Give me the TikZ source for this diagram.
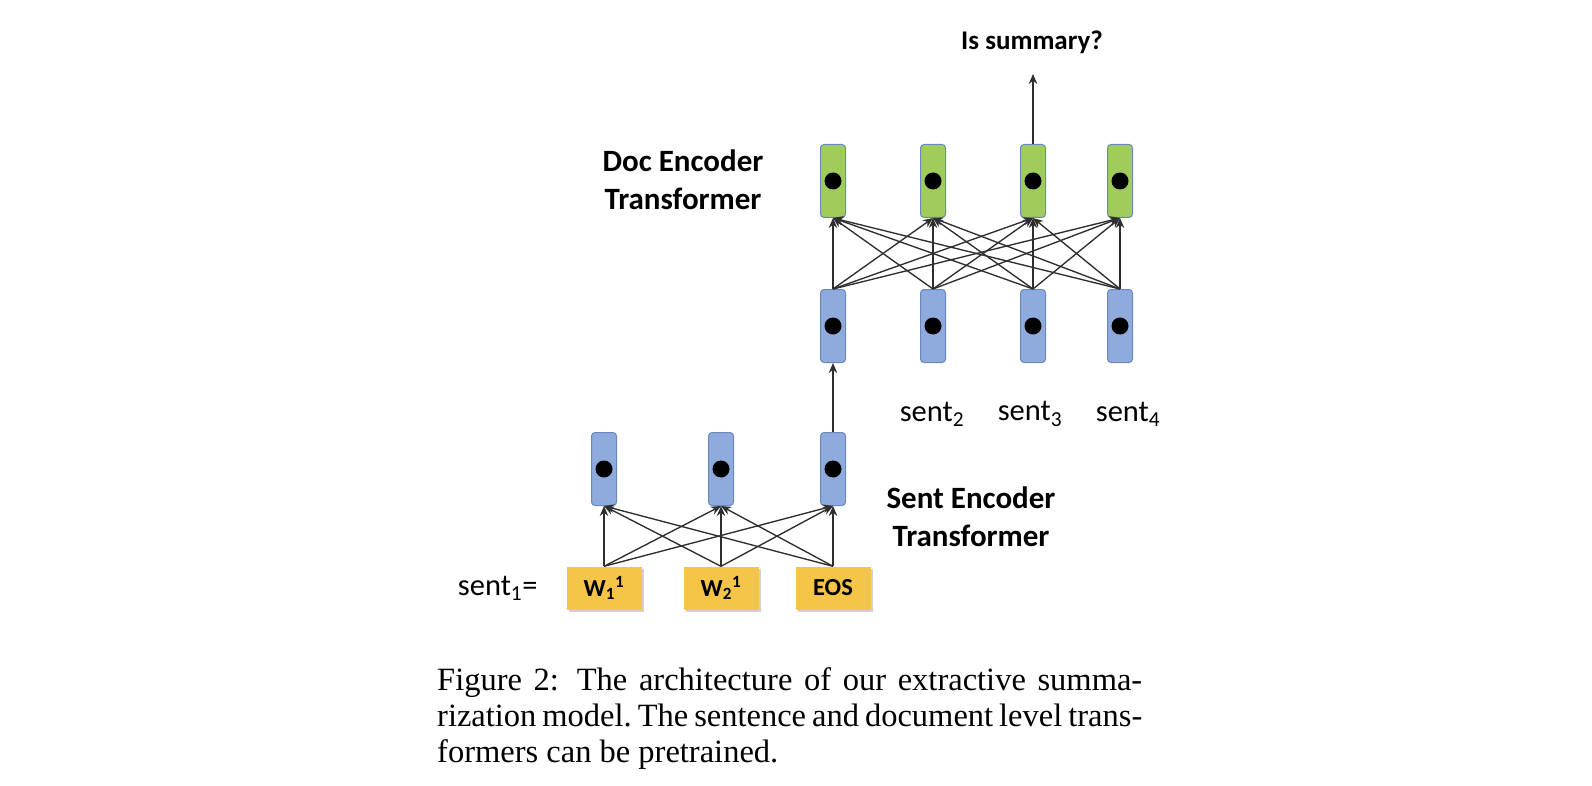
\documentclass[tikz,border=0pt]{standalone}
\usepackage{fontspec}
\setmainfont{Carlito}
\newfontfamily\capfont{Liberation Serif}
\usetikzlibrary{arrows.meta,shadows}
\definecolor{vecblue}{HTML}{8FAADC}
\definecolor{vecborder}{HTML}{6A88C0}
\definecolor{vecgreen}{HTML}{A0CC5C}
\definecolor{wordyellow}{HTML}{F6C446}
\definecolor{linegray}{HTML}{2E2E2E}
\begin{document}
\begin{tikzpicture}[x=1pt,y=-1pt,
 vec/.style={draw=vecborder, line width=1pt, rounded corners=3.5pt, minimum width=25pt, minimum height=73pt, inner sep=0pt},
 bluevec/.style={vec, fill=vecblue},
 greenvec/.style={vec, fill=vecgreen},
 dot/.style={circle, fill=black, minimum size=17pt, inner sep=0pt},
 word/.style={fill=wordyellow, minimum width=75pt, minimum height=43pt, inner sep=0pt, font=\fontsize{24.5}{29}\selectfont\bfseries, drop shadow={shadow xshift=2pt, shadow yshift=-2.5pt, opacity=0.3, fill=black!60}},
 conn/.style={draw=linegray, line width=1.35pt, -{Stealth[length=10pt,width=8.5pt]}},
 title/.style={font=\fontsize{31}{38}\selectfont\bfseries, align=center},
 lbl/.style={font=\fontsize{30.5}{36}\selectfont},
 captxt/.style={anchor=base west, font=\capfont\fontsize{32.5}{36}\selectfont\frenchspacing, inner sep=0pt},
]
\useasboundingbox (0,0) rectangle (1592,786);
% word boxes
\node[word] (w1) at (604,588) {W\textsubscript{1}\textsuperscript{1}};
\node[word] (w2) at (721,588) {W\textsubscript{2}\textsuperscript{1}};
\node[word] (w3) at (833,588) {EOS};
\node[lbl, anchor=east] (s1) at (541,588) {sent\textsubscript{1}=};
% sentence vectors
\foreach \n/\x in {v1/604, v2/721, v3/833}{
  \node[bluevec] (\n) at (\x,469) {};
  \node[dot] (\n d) at (\x,469) {};
}
% doc blue
\foreach \n/\x in {b1/833, b2/933, b3/1033, b4/1120}{
  \node[bluevec] (\n) at (\x,326) {};
  \node[dot] (\n d) at (\x,326) {};
}
% doc green
\foreach \n/\x in {g1/833, g2/933, g3/1033, g4/1120}{
  \node[greenvec] (\n) at (\x,181) {};
  \node[dot] (\n d) at (\x,181) {};
}
% connectors sentence level
\foreach \i in {1,2,3}{
  \foreach \j in {1,2,3}{
    \draw[conn] (w\i.north) -- (v\j.south);
  }
}
\draw[conn] (v3.north) -- (b1.south);
\foreach \i in {1,2,3,4}{
  \foreach \j in {1,2,3,4}{
    \draw[conn] (b\i.north) -- (g\j.south);
  }
}
\coordinate (out) at (1033,74);
\draw[conn] (g3.north) -- (out);
% labels
\node[font=\fontsize{27}{32}\selectfont\bfseries] (issum) at (1032,42) {Is summary?};
\node[title] (doct) at (683,180) {Doc Encoder\\Transformer};
\node[title] (sentt) at (971,517) {Sent Encoder\\Transformer};
\node[lbl] (s2) at (932,414) {sent\textsubscript{2}};
\node[lbl] (s3) at (1030,414) {sent\textsubscript{3}};
\node[lbl] (s4) at (1128,414) {sent\textsubscript{4}};
% caption
\node[captxt] (cap1) at (437,690) {\makebox[705pt][s]{Figure 2:\hspace{0.55em}The architecture of our extractive summa-}};
\node[captxt] (cap2) at (437,726) {\makebox[705pt][s]{rization model. The sentence and document level trans-}};
\node[captxt] (cap3) at (437,762) {formers can be pretrained.};
\end{tikzpicture}
\end{document}
